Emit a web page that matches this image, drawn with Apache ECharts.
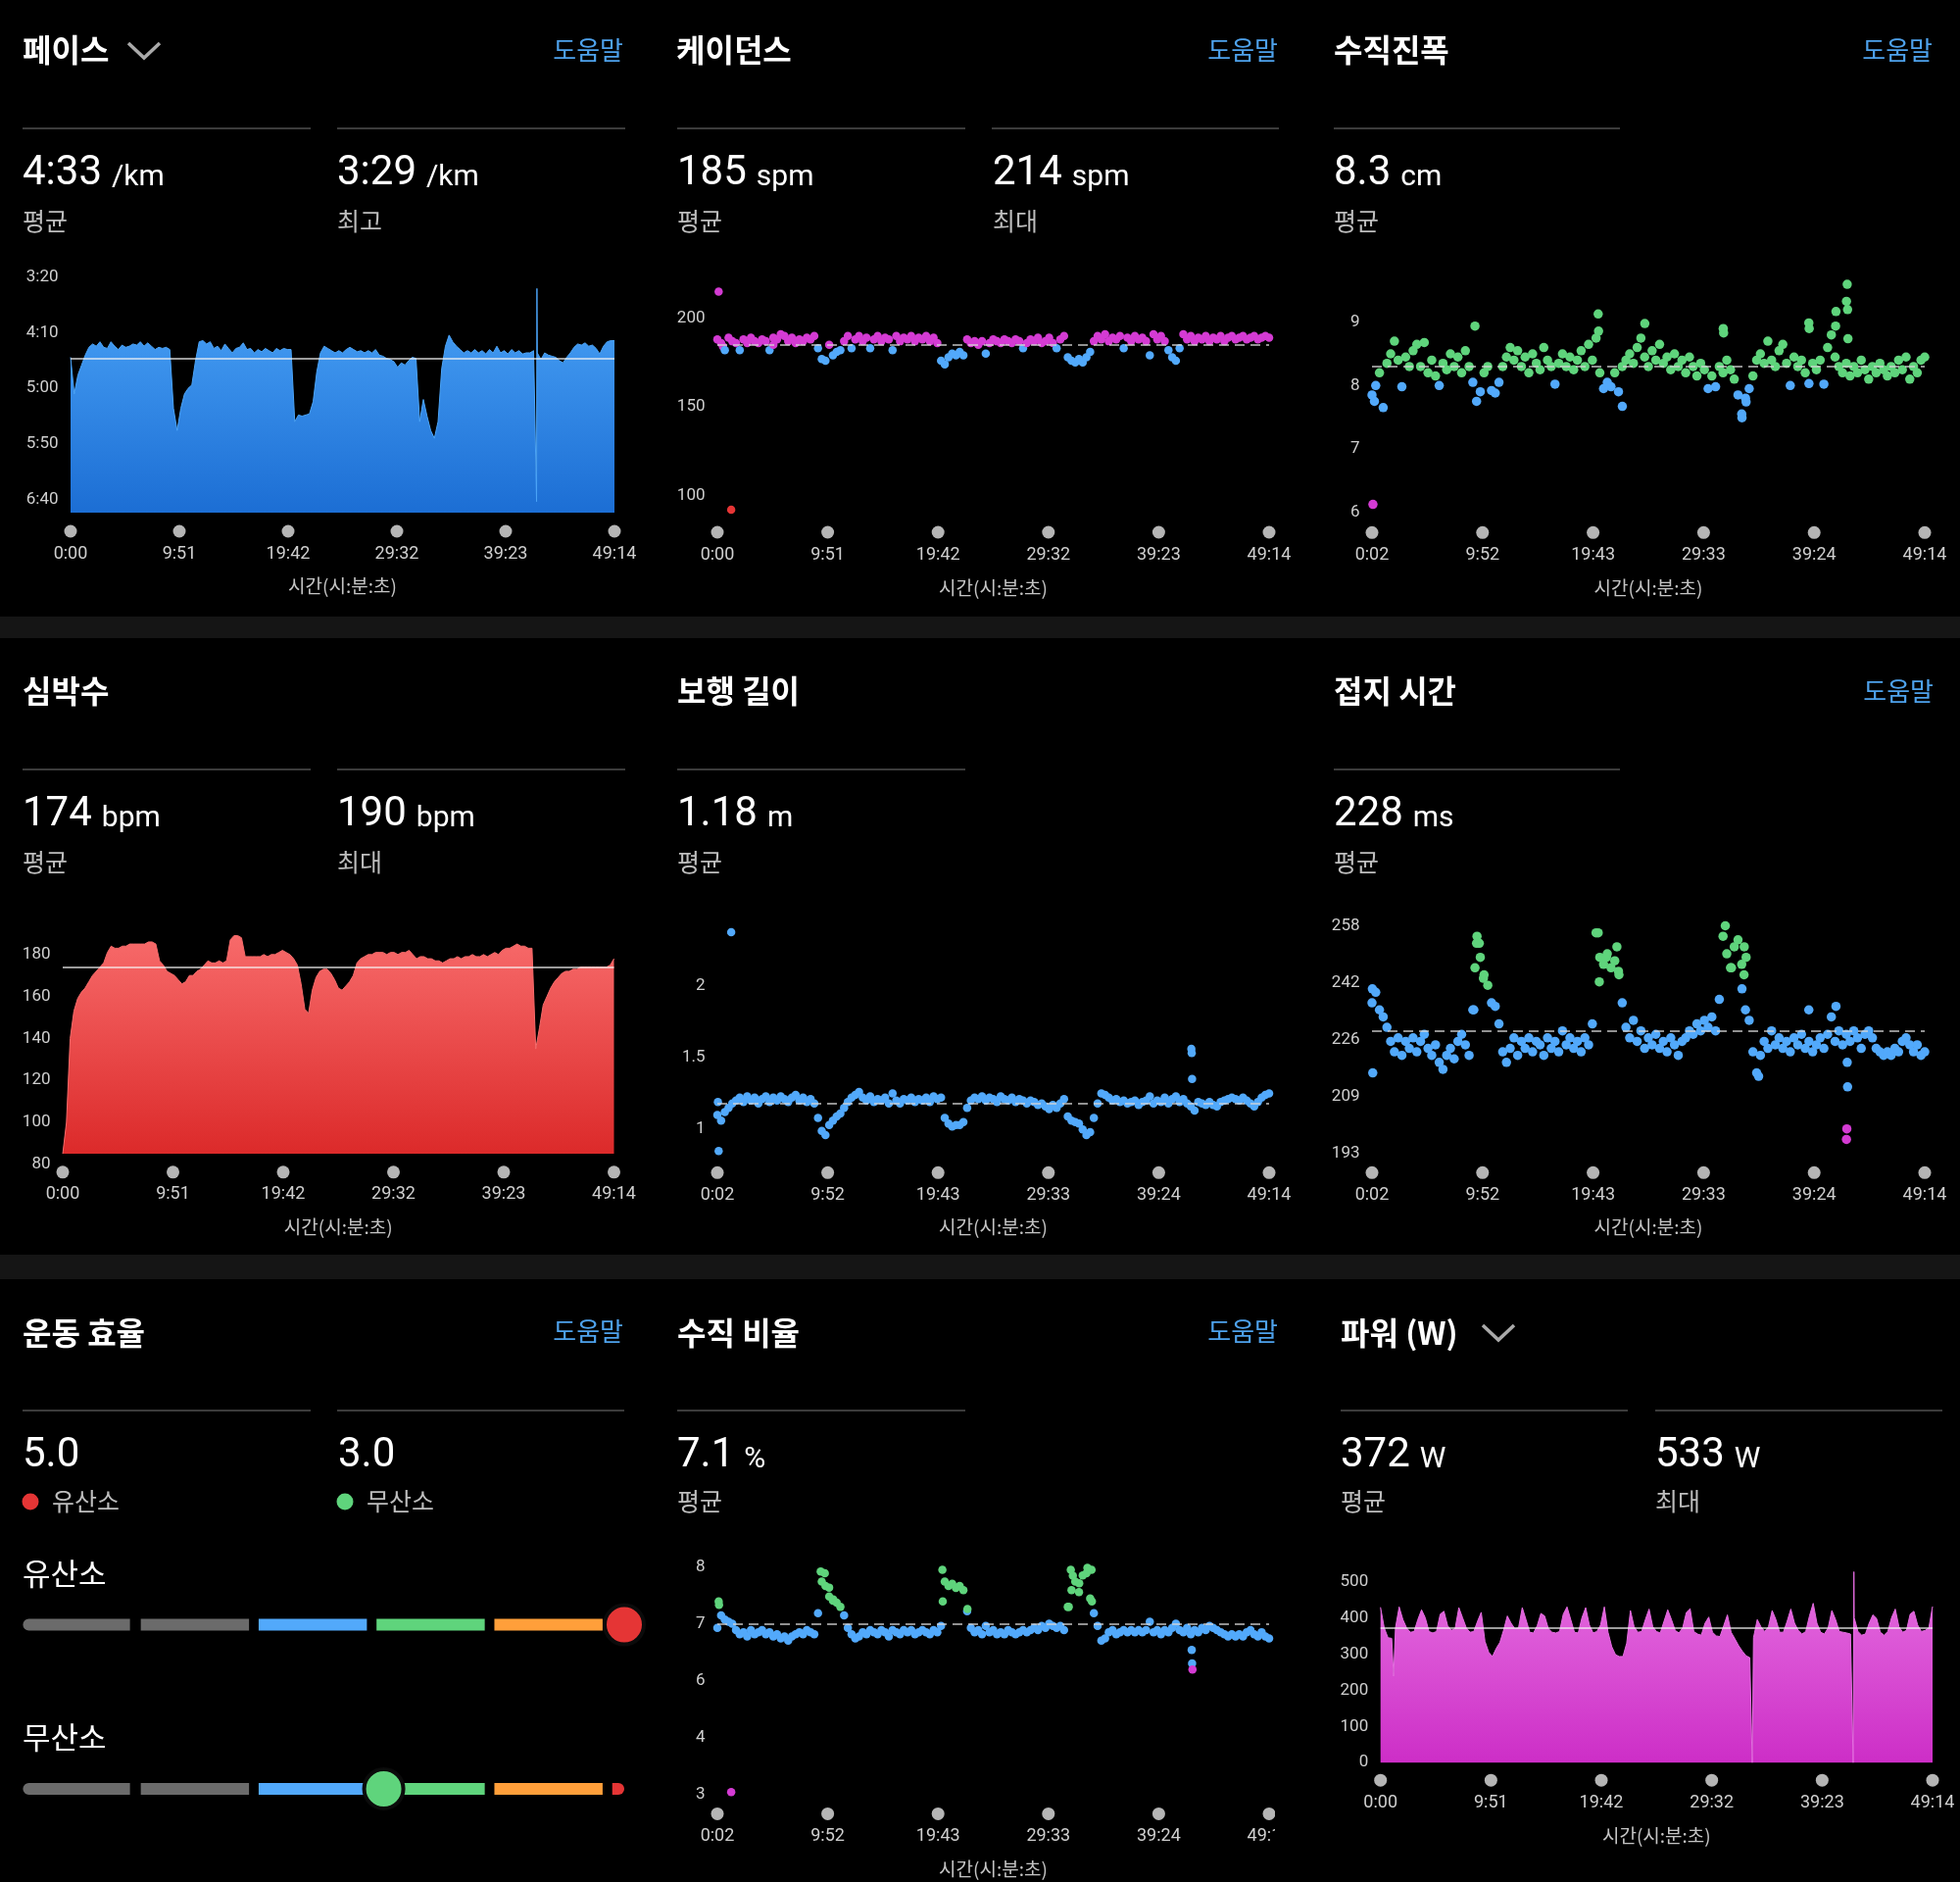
<!DOCTYPE html>
<html>
<head>
<meta charset="utf-8">
<script src="https://cdn.jsdelivr.net/npm/echarts@6.0.0/dist/echarts.min.js"></script>
<style>
  html, body { margin: 0; padding: 0; background: #000; }
  #chart { width: 2000px; height: 1920px; }
</style>
</head>
<body>
<div id="chart"></div>
<script>
// ---- run data (one sample every ~20 s, 0:00 -> 49:14) ----
const RUN_END_SEC = 2954;

const timeLabelsFrom0 = ['0:00', '9:51', '19:42', '29:32', '39:23', '49:14'];
const timeLabelsFrom2 = ['0:02', '9:52', '19:43', '29:33', '39:24', '49:14'];

// pace, seconds per km
const paceSec = [
  272,305,288,279,270,263,260,262,258,263, 264,258,262,265,261,263,262,260,261,258,
  262,259,262,265,263,264,263,265,318,338, 318,305,300,297,275,258,257,260,258,264,
  262,266,260,264,268,264,263,259,265,264, 268,265,267,264,266,268,264,266,264,265,
  265,330,324,325,324,323,312,285,268,262, 264,266,268,266,268,265,263,265,267,266,
  268,266,268,265,270,271,273,274,276,281, 277,279,275,272,273,330,310,325,338,345,
  330,282,262,252,258,262,265,268,266,268, 265,268,266,269,265,268,262,268,266,269,
  265,268,266,269,268,268,266,268,274,268, 270,271,272,275,277,272,268,263,260,261,
  259,262,261,264,269,262,258,257,257
];
const paceSpikes = [[2531, 402], [2533, 210]];
const paceTicks = [200, 250, 300, 350, 400];
const paceAvg = 273;

// cadence, spm
const cadenceSpm = [
  188,186,182,189,187,186,182,188,186,189, 187,186,188,187,182,189,188,191,190,187,
  189,186,188,187,189,188,190,183,177,176, 185,179,181,182,187,190,183,188,190,187,
  189,183,188,190,187,189,188,182,190,187, 189,188,190,187,189,188,190,187,189,186,
  176,174,178,180,179,181,179,188,186,187, 185,187,180,186,188,187,186,188,187,186,
  188,187,183,186,188,187,189,186,187,189, 186,183,188,190,178,176,175,177,175,178,
  181,187,190,188,191,187,189,188,190,183, 189,187,190,188,189,187,179,191,188,190,
  187,182,178,176,183,191,188,190,187,189, 188,190,187,189,188,190,187,189,190,188,
  189,190,188,189,190,188,189,190,189
];
const cadenceOutliers = [[7, 215], [74, 92], [30, 184], [300, 185]];
const cadenceTicks = [100, 150, 200];
const cadenceAvg = 185;

// vertical oscillation, cm
const vertOscCm = [
  7.85,8.0,8.2,7.65,8.35,8.5,8.7,8.4,7.98,8.45, 8.3,8.55,8.65,8.3,8.68,8.2,8.4,8.15,8.0,8.35,
  8.25,8.5,8.3,8.45,8.2,8.55,8.3,8.05,7.75,7.9, 8.2,8.3,7.92,7.88,8.05,8.3,8.45,8.6,8.4,8.55,
  8.3,8.45,8.2,8.5,8.35,8.25,8.6,8.4,8.3,8.02, 8.35,8.5,8.3,8.45,8.25,8.4,8.55,8.3,8.65,8.4,
  8.75,8.2,7.95,8.05,7.98,8.2,7.9,8.3,8.4,8.5, 8.35,8.6,8.75,8.45,8.3,8.55,8.4,8.65,8.35,8.45,
  8.25,8.5,8.3,8.4,8.2,8.45,8.3,8.15,8.35,8.25, 7.95,8.15,7.98,8.3,8.2,8.4,8.25,8.1,7.85,7.55,
  7.8,7.95,8.15,8.4,8.5,8.35,8.7,8.4,8.3,8.55, 8.65,8.35,8.0,8.45,8.3,8.4,8.2,8.03,8.35,8.25,
  8.4,8.02,8.6,8.8,8.45,8.3,8.2,8.35,8.15,8.3, 8.2,8.4,8.25,8.1,8.3,8.2,8.35,8.25,8.15,8.3,
  8.2,8.4,8.25,8.45,8.1,8.3,8.2,8.4,8.45
];
const vertOscOutliers = [
  [7, 6.12], [15, 7.75], [552, 8.94], [1210, 9.13], [1212, 8.86], [1339, 7.67], [1459, 8.98],
  [1878, 8.9], [1880, 8.83], [1978, 7.49], [2000, 7.74], [2335, 8.99], [2337, 8.9],
  [2478, 8.94], [2480, 9.17], [2536, 9.33], [2540, 9.6], [2542, 9.2], [2544, 8.74]
];
const vertOscTicks = [6, 7, 8, 9];
const vertOscAvg = 8.3;

// heart rate, bpm
const heartRateBpm = [
  85,100,140,153,159,162,164,167,170,172, 174,176,181,184,183,183,184,184,185,185,
  185,185,185,186,186,185,177,175,172,171, 170,168,166,167,170,170,172,173,175,177,
  176,176,177,176,177,187,189,189,188,179, 179,179,179,179,180,179,180,180,181,182,
  181,180,178,175,166,154,152,163,169,172, 173,173,171,168,164,163,165,167,170,176,
  178,179,180,180,181,181,181,180,181,181, 180,181,181,182,180,178,179,179,178,178,
  177,177,176,177,178,178,179,178,179,179, 180,179,179,180,179,180,181,180,182,183,
  183,184,185,184,184,183,183,135,145,156, 160,164,167,169,171,172,172,173,173,174,
  174,174,174,174,174,174,174,175,178
];
const heartRateTicks = [80, 100, 120, 140, 160, 180];
const heartRateAvg = 174;
const heartRateFloor = 85;

// stride length, m
const strideM = [
  1.1,1.06,1.12,1.15,1.18,1.2,1.22,1.19,1.23,1.2, 1.22,1.18,1.21,1.23,1.19,1.22,1.2,1.23,1.21,1.19,
  1.22,1.24,1.2,1.22,1.19,1.21,1.18,1.08,0.99,0.96, 1.03,1.06,1.09,1.11,1.15,1.19,1.22,1.24,1.26,1.22,
  1.2,1.23,1.19,1.21,1.2,1.22,1.18,1.25,1.2,1.18, 1.21,1.2,1.22,1.19,1.21,1.2,1.22,1.19,1.23,1.21,
  1.22,1.08,1.04,1.02,1.03,1.03,1.05,1.15,1.2,1.22, 1.21,1.23,1.2,1.22,1.21,1.19,1.23,1.21,1.2,1.22,
  1.19,1.21,1.2,1.18,1.2,1.19,1.17,1.18,1.16,1.14, 1.17,1.15,1.18,1.21,1.09,1.06,1.05,1.04,1.0,0.96,
  0.98,1.08,1.18,1.25,1.24,1.22,1.2,1.21,1.19,1.2, 1.18,1.19,1.2,1.17,1.19,1.2,1.23,1.18,1.2,1.19,
  1.22,1.18,1.21,1.23,1.19,1.21,1.18,1.16,1.13,1.19, 1.18,1.17,1.19,1.17,1.16,1.19,1.2,1.21,1.22,1.21,
  1.2,1.22,1.2,1.18,1.16,1.19,1.22,1.24,1.25
];
const strideOutliers = [[5, 1.19], [9, 0.85], [76, 2.37], [2538, 1.56], [2540, 1.53], [2542, 1.35]];
const strideTicks = [1, 1.5, 2];
const strideAvg = 1.18;

// ground contact time, ms
const contactMs = [
  236,239,234,232,229,225,222,226,221,225, 223,226,222,225,227,223,221,224,219,217,
  221,223,220,225,227,224,221,234,253,249, 244,241,236,235,230,222,219,223,226,221,
  225,223,226,222,225,224,221,226,223,225, 222,228,224,226,223,225,222,226,224,230,
  256,249,247,250,246,248,245,236,229,226, 231,225,228,223,226,224,227,223,225,222,
  226,224,221,225,226,228,227,230,228,231, 229,232,228,237,255,250,246,252,254,247,
  234,231,222,216,221,225,223,228,224,226, 223,225,222,226,224,227,223,225,222,224,
  226,223,227,232,225,228,224,227,225,228, 226,223,227,228,226,223,222,221,222,221,
  223,222,225,226,224,222,224,221,222
];
const contactOutliers = [
  [4, 240], [6, 216], [546, 234], [552, 246], [563, 255], [575, 253], [597, 243],
  [1210, 256], [1216, 242], [1254, 249], [1310, 252], [1321, 244],
  [1889, 258], [1922, 246], [1978, 240], [1989, 244], [1990, 252], [2000, 249],
  [2067, 215], [2335, 234], [2480, 235], [2536, 197], [2538, 200], [2540, 219], [2542, 212]
];
const contactTicks = [193, 209.25, 225.5, 241.75, 258];
const contactAvg = 228;

// vertical ratio, %
const vertRatioPct = [
  7.0,7.3,7.2,7.15,7.1,6.95,6.85,6.9,6.8,6.95, 6.85,6.9,6.95,6.85,6.9,6.8,6.85,6.75,6.8,6.7,
  6.8,6.85,6.9,6.85,6.95,6.9,6.85,7.35,8.1,8.0, 7.75,7.65,7.6,7.5,7.3,7.0,6.85,6.75,6.8,6.9,
  6.85,6.95,6.9,6.85,6.95,6.9,6.8,6.95,6.9,6.85, 6.95,6.9,6.95,6.85,6.9,6.95,6.9,6.85,6.95,6.9,
  7.05,8.1,8.0,8.05,7.95,8.0,7.9,7.4,7.0,6.9, 6.95,6.85,7.05,6.9,6.95,6.85,6.9,6.85,6.95,6.9,
  6.85,6.9,6.95,6.9,6.95,7.0,6.95,7.05,7.0,7.1, 7.05,7.0,7.05,6.95,7.5,7.9,8.1,7.85,8.25,8.3,
  7.7,7.35,7.05,6.7,6.75,6.9,6.95,6.85,6.9,6.95, 6.9,6.95,6.9,6.95,6.9,6.95,7.15,6.9,6.95,6.85,
  6.95,6.9,7.0,7.1,6.95,6.9,7.0,6.85,6.95,6.9, 7.0,6.95,7.05,7.0,6.95,6.9,6.85,6.8,6.85,6.8,
  6.85,6.8,6.9,6.95,6.85,6.8,6.9,6.8,6.75
];
const vertRatioOutliers = [
  [9, 7.63], [11, 7.55], [76, 3.1], [555, 8.34], [577, 8.3], [600, 7.96], [622, 7.68],
  [1206, 8.38], [1208, 7.63], [1340, 7.45], [1882, 7.5], [1893, 8.38], [1904, 8.24],
  [1938, 8.06], [1982, 8.43], [2004, 8.38], [2006, 7.63], [2540, 6.48], [2542, 6.16], [2544, 6.01]
];
const vertRatioTicks = [3.05, 4.4, 5.75, 7.1, 8.45];
const vertRatioAvg = 7.1;

// running power, W
const powerW = [
  429,372,345,343,372,430,395,372,360,362, 395,422,400,362,358,362,410,418,378,365,
  370,428,400,372,360,362,390,415,335,305, 293,315,332,366,405,385,370,372,428,395,
  360,358,378,412,405,370,360,358,362,410, 430,395,360,358,400,428,380,358,362,380,
  430,360,320,298,293,293,330,420,375,360, 362,395,424,375,362,358,390,422,395,365,
  358,372,415,425,362,355,352,385,402,360, 350,348,378,408,360,342,323,308,295,290,
  345,395,375,362,375,420,395,360,360,390, 424,385,365,355,362,405,440,385,360,355,
  372,420,395,362,360,358,355,400,362,352, 355,385,408,398,360,352,362,400,424,375,
  360,365,410,418,380,362,365,372,431
];
const powerSpikes = [[70, 239], [1989, 0], [2529, 0], [2533, 527]];
const powerTicks = [0, 100, 200, 300, 400, 500];
const powerAvg = 372;

// training effect scale
const effectZones = [[0, 0.89], [0.98, 1.88], [1.96, 2.86], [2.94, 3.84], [3.92, 4.82], [4.9, 5.0]];
const aerobicEffect = 5.0;
const anaerobicEffect = 3.0;

// ---- styles ----
const FONT_NUM = 'Roboto, "Noto Sans CJK KR", sans-serif';
const FONT_KR = '"Noto Sans CJK KR", sans-serif';
const BLUE = '#52a9fb';
const GREEN = '#5fd47c';
const MAGENTA = '#d43bd3';
const RED = '#e53535';
const ORANGE = '#ff9f3a';
const GRAY_ZONE = '#6b6b6b';
const zoneColors = [GRAY_ZONE, GRAY_ZONE, BLUE, GREEN, ORANGE, RED];
const HELP_BLUE = '#4ea2ec';

function xOf(t, t0) {
  return (t - t0) / ((RUN_END_SEC - t0) / 5);
}
function timeSeries(values, t0, extra) {
  const pts = values.map((v, i) => [i * 5 / (values.length - 1), v]);
  (extra || []).forEach(p => pts.push([xOf(p[0], t0), p[1]]));
  return pts.sort((a, b) => a[0] - b[0]);
}
function mmss(v) {
  const s = Math.round(v);
  return Math.floor(s / 60) + ':' + String(s % 60).padStart(2, '0');
}
function grad(top, bottom) {
  return new echarts.graphic.LinearGradient(0, 0, 0, 1, [
    { offset: 0, color: top }, { offset: 1, color: bottom }
  ]);
}
function avgLine(v, dashed) {
  return {
    silent: true, symbol: 'none', label: { show: false },
    lineStyle: dashed
      ? { color: '#d6d6d6', width: 1.5, type: [10, 6], opacity: 0.9 }
      : { color: '#f4f4f4', width: 1.5, type: 'solid', opacity: 0.85 },
    data: [{ yAxis: v }]
  };
}

function timeAxis(gridIndex, labels, margin, nameGap) {
  return {
    type: 'value', gridIndex, min: 0, max: 5,
    axisLine: { show: false }, axisTick: { show: false }, splitLine: { show: false },
    axisLabel: {
      customValues: [0, 1, 2, 3, 4, 5],
      margin,
      formatter: v => '{d| }\n{t|' + labels[Math.round(v)] + '}',
      rich: {
        d: { width: 13, height: 13, borderRadius: 6.5, backgroundColor: '#b5b5b5', lineHeight: 14 },
        t: { fontSize: 18, color: '#cfcfcf', lineHeight: 32, fontFamily: FONT_NUM }
      }
    },
    name: '시간(시:분:초)', nameLocation: 'middle', nameGap,
    nameTextStyle: { color: '#c4c4c4', fontSize: 19, fontFamily: FONT_KR, verticalAlign: 'middle' }
  };
}
function valueAxis(gridIndex, min, max, ticks, formatter, inverse) {
  return {
    type: 'value', gridIndex, min, max, inverse: !!inverse,
    axisLine: { show: false }, axisTick: { show: false }, splitLine: { show: false },
    axisLabel: {
      customValues: ticks, margin: 12.5, color: '#cfcfcf', fontSize: 17, fontFamily: FONT_NUM,
      formatter: formatter || (v => String(v))
    }
  };
}
function scatterSeries(axis, data, size, avg, color) {
  return {
    type: 'scatter', xAxisIndex: axis, yAxisIndex: axis, data, symbolSize: size,
    itemStyle: color ? { color, opacity: 1 } : { opacity: 1 },
    markLine: avgLine(avg, true)
  };
}

// ---- page furniture (titles, stats, separators) ----
const graphics = [];
const measureCtx = document.createElement('canvas').getContext('2d');
function textWidth(str, font) {
  measureCtx.font = font;
  return measureCtx.measureText(str).width;
}
function addText(x, y, str, font, color, align) {
  graphics.push({
    type: 'text', x, y, z: 20,
    style: { text: str, font, fill: color, align: align || 'left', verticalAlign: 'middle' }
  });
}
function addLine(x1, x2, y) {
  graphics.push({ type: 'line', z: 20, shape: { x1, y1: y, x2, y2: y }, style: { stroke: '#4f4f4f', lineWidth: 1.5 } });
}
function addChevron(pts) {
  graphics.push({ type: 'polyline', z: 20, shape: { points: pts }, style: { stroke: '#a9a9a9', lineWidth: 3.5, fill: null } });
}
const TITLE_FONT = `700 32px ${FONT_KR}`;
const HELP_FONT = `400 26px ${FONT_KR}`;
const VALUE_FONT = `400 42px ${FONT_NUM}`;
const UNIT_FONT = `400 30px ${FONT_NUM}`;
const CAPTION_FONT = `400 25px ${FONT_KR}`;
const rowTitleY = [51, 705, 1360];
const rowSepY = [131, 785, 1439];
const rowValueY = [177, 831, 1485];
const rowCaptionY = [225, 879, 1531];

function addStat(x, row, value, unit, caption) {
  const y = rowValueY[row];
  addText(x, y, value, VALUE_FONT, '#ffffff');
  if (unit) addText(x + textWidth(value, VALUE_FONT) + 10, y + 4, unit, UNIT_FONT, '#ffffff');
  if (caption) addText(x, rowCaptionY[row], caption, CAPTION_FONT, '#bdbdbd');
}

// row separators
graphics.push({ type: 'rect', z: 1, shape: { x: 0, y: 629, width: 2000, height: 22 }, style: { fill: '#151515' } });
graphics.push({ type: 'rect', z: 1, shape: { x: 0, y: 1280, width: 2000, height: 25 }, style: { fill: '#151515' } });

// pace
addText(23, rowTitleY[0], '페이스', TITLE_FONT, '#fff');
addChevron([[131, 44], [147, 59], [163, 44]]);
addText(636, rowTitleY[0], '도움말', HELP_FONT, HELP_BLUE, 'right');
addLine(23, 317, rowSepY[0]); addLine(344, 638, rowSepY[0]);
addStat(23, 0, '4:33', '/km', '평균');
addStat(344, 0, '3:29', '/km', '최고');
// cadence
addText(690, rowTitleY[0], '케이던스', TITLE_FONT, '#fff');
addText(1304, rowTitleY[0], '도움말', HELP_FONT, HELP_BLUE, 'right');
addLine(691, 985, rowSepY[0]); addLine(1012, 1305, rowSepY[0]);
addStat(691, 0, '185', 'spm', '평균');
addStat(1013, 0, '214', 'spm', '최대');
// vertical oscillation
addText(1361, rowTitleY[0], '수직진폭', TITLE_FONT, '#fff');
addText(1972, rowTitleY[0], '도움말', HELP_FONT, HELP_BLUE, 'right');
addLine(1361, 1653, rowSepY[0]);
addStat(1361, 0, '8.3', 'cm', '평균');
// heart rate
addText(23, rowTitleY[1], '심박수', TITLE_FONT, '#fff');
addLine(23, 317, rowSepY[1]); addLine(344, 638, rowSepY[1]);
addStat(23, 1, '174', 'bpm', '평균');
addStat(344, 1, '190', 'bpm', '최대');
// stride length
addText(691, rowTitleY[1], '보행 길이', TITLE_FONT, '#fff');
addLine(691, 985, rowSepY[1]);
addStat(691, 1, '1.18', 'm', '평균');
// ground contact time
addText(1361, rowTitleY[1], '접지 시간', TITLE_FONT, '#fff');
addText(1973, rowTitleY[1], '도움말', HELP_FONT, HELP_BLUE, 'right');
addLine(1361, 1653, rowSepY[1]);
addStat(1361, 1, '228', 'ms', '평균');
// training effect
addText(23, rowTitleY[2], '운동 효율', TITLE_FONT, '#fff');
addText(636, rowTitleY[2] - 2, '도움말', HELP_FONT, HELP_BLUE, 'right');
addLine(23, 317, rowSepY[2]); addLine(344, 637, rowSepY[2]);
addStat(23, 2, aerobicEffect.toFixed(1));
addStat(345, 2, anaerobicEffect.toFixed(1));
graphics.push({ type: 'circle', z: 20, shape: { cx: 31, cy: rowCaptionY[2] + 1, r: 8.5 }, style: { fill: RED } });
addText(53, rowCaptionY[2], '유산소', CAPTION_FONT, '#bdbdbd');
graphics.push({ type: 'circle', z: 20, shape: { cx: 352, cy: rowCaptionY[2] + 1, r: 8.5 }, style: { fill: GREEN } });
addText(374, rowCaptionY[2], '무산소', CAPTION_FONT, '#bdbdbd');
addText(23, 1605, '유산소', `400 31px ${FONT_KR}`, '#fff');
addText(23, 1772, '무산소', `400 31px ${FONT_KR}`, '#fff');
// vertical ratio
addText(691, rowTitleY[2], '수직 비율', TITLE_FONT, '#fff');
addText(1304, rowTitleY[2] - 2, '도움말', HELP_FONT, HELP_BLUE, 'right');
addLine(691, 985, rowSepY[2]);
addStat(691, 2, '7.1', '%', '평균');
// the screenshot cuts the last time label of this panel
graphics.push({ type: 'rect', z: 50, shape: { x: 1301, y: 1842, width: 34, height: 48 }, style: { fill: '#000' } });
// power
addText(1368, rowTitleY[2], '파워 (W)', TITLE_FONT, '#fff');
addChevron([[1513, 1352], [1529, 1367], [1545, 1352]]);
addLine(1368, 1661, rowSepY[2]); addLine(1689, 1982, rowSepY[2]);
addStat(1368, 2, '372', 'W', '평균');
addStat(1689, 2, '533', 'W', '최대');

// ---- efficiency bar data ----
const effectBars = [];
[1, 0].forEach(row => effectZones.forEach((z, k) => effectBars.push([z[0], z[1], row, k])));

const chart = echarts.init(document.getElementById('chart'));
chart.setOption({
  backgroundColor: '#000',
  animation: false,
  graphic: { elements: graphics },
  grid: [
    { left: 72, top: 283, width: 555, height: 240 },
    { left: 732, top: 297.5, width: 563, height: 226 },
    { left: 1400, top: 283.6, width: 564, height: 238.7 },
    { left: 64, top: 952.4, width: 562.5, height: 235.4 },
    { left: 732, top: 944.5, width: 563, height: 232.2 },
    { left: 1400, top: 944.5, width: 564, height: 232.2 },
    { left: 23.4, top: 1657.6, width: 613.6, height: 167.4 },
    { left: 732, top: 1594.3, width: 563, height: 236.1 },
    { left: 1408.7, top: 1602.4, width: 563.3, height: 195.8 }
  ],
  xAxis: [
    timeAxis(0, timeLabelsFrom0, 12, 75),
    timeAxis(1, timeLabelsFrom0, 12.5, 76),
    timeAxis(2, timeLabelsFrom2, 14, 77),
    timeAxis(3, timeLabelsFrom0, 1, 64),
    timeAxis(4, timeLabelsFrom2, 12.6, 75.5),
    timeAxis(5, timeLabelsFrom2, 12.6, 75.5),
    { type: 'value', gridIndex: 6, min: 0, max: 5, show: false },
    timeAxis(7, timeLabelsFrom2, 13, 76),
    timeAxis(8, timeLabelsFrom0, 11, 74.5)
  ],
  yAxis: [
    valueAxis(0, 200, 412, paceTicks, mmss, true),
    valueAxis(1, 90, 215, cadenceTicks),
    valueAxis(2, 6, 9.7, vertOscTicks),
    valueAxis(3, 80, 190, heartRateTicks),
    valueAxis(4, 0.833, 2.414, strideTicks),
    valueAxis(5, 193, 258, contactTicks, v => String(Math.round(v))),
    { type: 'value', gridIndex: 6, min: 0, max: 1, show: false },
    valueAxis(7, 3.05, 8.55, vertRatioTicks, v => String(Math.round(v))),
    valueAxis(8, 0, 530, powerTicks)
  ],
  visualMap: [
    { type: 'piecewise', show: false, seriesIndex: 1, dimension: 1,
      pieces: [{ lt: 153, color: RED }, { gte: 153, lt: 163.5, color: ORANGE }, { gte: 163.5, lt: 173.5, color: GREEN },
               { gte: 173.5, lt: 183.5, color: BLUE }, { gte: 183.5, color: MAGENTA }] },
    { type: 'piecewise', show: false, seriesIndex: 2, dimension: 1,
      pieces: [{ lt: 6.4, color: MAGENTA }, { gte: 6.4, lt: 8.1, color: BLUE }, { gte: 8.1, color: GREEN }] },
    { type: 'piecewise', show: false, seriesIndex: 5, dimension: 1,
      pieces: [{ lt: 208, color: MAGENTA }, { gte: 208, lt: 240.5, color: BLUE }, { gte: 240.5, color: GREEN }] },
    { type: 'piecewise', show: false, seriesIndex: 8, dimension: 1,
      pieces: [{ lt: 6.1, color: MAGENTA }, { gte: 6.1, lt: 7.45, color: BLUE }, { gte: 7.45, color: GREEN }] }
  ],
  series: [
    { type: 'line', xAxisIndex: 0, yAxisIndex: 0, data: timeSeries(paceSec, 0, paceSpikes),
      symbol: 'none', lineStyle: { width: 1, color: '#4ba4f8' },
      areaStyle: { origin: 'end', opacity: 1, color: grad('#4aa3f7', '#1c6ed4') },
      markLine: avgLine(paceAvg, false) },
    scatterSeries(1, timeSeries(cadenceSpm, 0, cadenceOutliers), 8.5, cadenceAvg),
    scatterSeries(2, timeSeries(vertOscCm, 2, vertOscOutliers), 9.5, vertOscAvg),
    { type: 'line', xAxisIndex: 3, yAxisIndex: 3, data: timeSeries(heartRateBpm, 0),
      symbol: 'none', lineStyle: { width: 1, color: '#f66a6a' },
      areaStyle: { origin: heartRateFloor, opacity: 1, color: grad('#f76a6a', '#dc2a2a') },
      markLine: avgLine(heartRateAvg, false) },
    scatterSeries(4, timeSeries(strideM, 2, strideOutliers), 8.5, strideAvg, BLUE),
    scatterSeries(5, timeSeries(contactMs, 2, contactOutliers), 9.5, contactAvg),
    { type: 'custom', xAxisIndex: 6, yAxisIndex: 6, data: effectBars,
      renderItem: (params, api) => {
        const s = api.coord([api.value(0), api.value(2)]);
        const e = api.coord([api.value(1), api.value(2)]);
        const k = api.value(3);
        const r = k === 0 ? [6, 0, 0, 6] : (k === effectZones.length - 1 ? [0, 6, 6, 0] : 0);
        return { type: 'rect', shape: { x: s[0], y: s[1] - 6, width: e[0] - s[0], height: 12, r },
                 style: { fill: zoneColors[k] } };
      } },
    { type: 'scatter', xAxisIndex: 6, yAxisIndex: 6, z: 5, symbolSize: 40,
      itemStyle: { borderColor: '#0b0b0b', borderWidth: 4, opacity: 1 },
      data: [{ value: [aerobicEffect, 1], itemStyle: { color: RED } },
             { value: [anaerobicEffect, 0], itemStyle: { color: GREEN } }] },
    scatterSeries(7, timeSeries(vertRatioPct, 2, vertRatioOutliers), 8.5, vertRatioAvg),
    { type: 'line', xAxisIndex: 8, yAxisIndex: 8, data: timeSeries(powerW, 0, powerSpikes),
      symbol: 'none', lineStyle: { width: 1, color: '#e46ce0' },
      areaStyle: { opacity: 1, color: grad('#e56fe0', '#cd2ec7') },
      markLine: avgLine(powerAvg, false) }
  ]
});
</script>
</body>
</html>
